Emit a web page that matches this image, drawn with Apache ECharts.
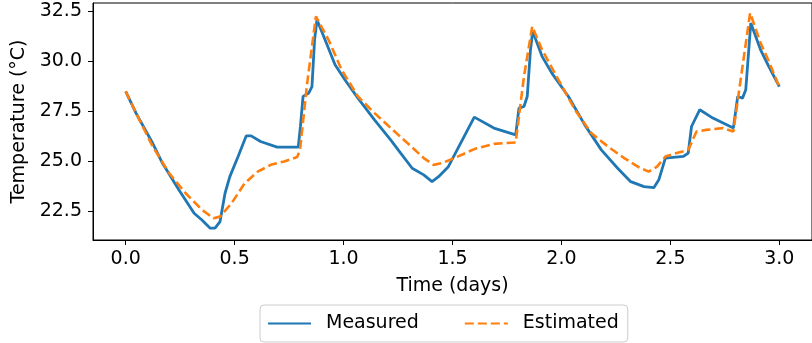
<!DOCTYPE html>
<html>
<head>
<meta charset="utf-8">
<script src="https://cdn.jsdelivr.net/npm/echarts@6/dist/echarts.min.js"></script>
<style>
  html, body { margin: 0; padding: 0; background: #fff; }
  #chart { width: 812px; height: 343px; }
</style>
</head>
<body>
<div id="chart"></div>
<script>
// time in days / temperature in degC
var measuredTime = [0, 0.048, 0.124, 0.169, 0.244, 0.314, 0.35, 0.388, 0.41, 0.433, 0.456, 0.478, 0.516, 0.553, 0.576, 0.619, 0.695, 0.792, 0.802, 0.814, 0.84, 0.855, 0.867, 0.878, 0.915, 0.961, 1.006, 1.066, 1.142, 1.217, 1.262, 1.315, 1.368, 1.406, 1.436, 1.481, 1.6, 1.69, 1.79, 1.805, 1.828, 1.843, 1.858, 1.868, 1.911, 1.956, 2.032, 2.107, 2.183, 2.258, 2.318, 2.379, 2.424, 2.447, 2.477, 2.56, 2.582, 2.597, 2.635, 2.695, 2.789, 2.809, 2.831, 2.846, 2.869, 2.914, 2.952, 3.0];
var measuredTemp = [28.5, 27.4, 25.9, 24.9, 23.57, 22.4, 22.06, 21.65, 21.65, 21.98, 23.4, 24.23, 25.24, 26.27, 26.27, 25.99, 25.71, 25.71, 26.74, 28.24, 28.41, 28.74, 31.08, 32.08, 31.08, 29.83, 29.08, 28.16, 27.07, 26.06, 25.41, 24.65, 24.32, 23.98, 24.23, 24.73, 27.21, 26.66, 26.32, 27.66, 27.74, 28.24, 30.58, 31.5, 30.25, 29.41, 28.24, 26.82, 25.57, 24.65, 23.98, 23.73, 23.68, 24.07, 25.16, 25.24, 25.41, 26.74, 27.58, 27.16, 26.66, 28.24, 28.16, 28.58, 31.92, 30.58, 29.74, 28.74];

var estimatedTime = [0, 0.063, 0.124, 0.2, 0.275, 0.35, 0.403, 0.433, 0.486, 0.546, 0.606, 0.666, 0.727, 0.787, 0.8, 0.833, 0.873, 0.931, 0.991, 1.066, 1.142, 1.217, 1.293, 1.368, 1.413, 1.449, 1.509, 1.6, 1.69, 1.79, 1.828, 1.866, 1.911, 1.986, 2.062, 2.137, 2.213, 2.288, 2.363, 2.401, 2.439, 2.477, 2.529, 2.582, 2.62, 2.665, 2.74, 2.789, 2.831, 2.866, 2.914, 2.952, 3.0];
var estimatedTemp = [28.5, 27.07, 25.74, 24.4, 23.4, 22.57, 22.15, 22.23, 22.9, 23.9, 24.48, 24.82, 24.99, 25.21, 25.57, 28.91, 32.25, 31.08, 29.58, 28.24, 27.41, 26.66, 25.91, 25.16, 24.82, 24.9, 25.16, 25.61, 25.87, 25.94, 29.24, 31.75, 30.58, 29.08, 27.58, 26.41, 25.74, 25.16, 24.65, 24.48, 24.73, 25.24, 25.41, 25.57, 26.49, 26.57, 26.66, 26.49, 29.74, 32.42, 30.92, 30.0, 28.71];

var xTicks = [0, 0.5, 1.0, 1.5, 2.0, 2.5, 3.0];
var yTicks = [22.5, 25.0, 27.5, 30.0, 32.5];

function pairs(xs, ys) {
    var res = [];
    xs.forEach(function (x, i) { res.push([x, ys[i]]); });
    return res;
}

var font = 'DejaVu Sans';
var chart = echarts.init(document.getElementById('chart'));
chart.setOption({
    animation: false,
    grid: {
        left: 93, top: 3, width: 729, height: 237,
        show: true, borderColor: '#000', borderWidth: 1
    },
    xAxis: {
        type: 'value', min: -0.15, max: 3.15,
        name: 'Time (days)', nameLocation: 'middle', nameGap: 37,
        nameTextStyle: { fontFamily: font, fontSize: 19, color: '#000' },
        axisLine: { show: true, onZero: false, lineStyle: { color: '#000', width: 1 } },
        axisTick: { show: true, customValues: xTicks, length: 5, lineStyle: { color: '#000' } },
        axisLabel: {
            customValues: xTicks, margin: 10,
            fontFamily: font, fontSize: 19, color: '#000',
            formatter: function (v) { return v.toFixed(1); }
        },
        splitLine: { show: false }
    },
    yAxis: {
        type: 'value', min: 21.06, max: 32.92,
        name: 'Temperature (°C)', nameLocation: 'middle', nameGap: 56,
        nameTextStyle: { fontFamily: font, fontSize: 19, color: '#000' },
        axisLine: { show: true, onZero: false, lineStyle: { color: '#000', width: 1 } },
        axisTick: { show: true, customValues: yTicks, length: 5, lineStyle: { color: '#000' } },
        axisLabel: {
            customValues: yTicks, margin: 11,
            fontFamily: font, fontSize: 19, color: '#000',
            formatter: function (v) { return v.toFixed(1); }
        },
        splitLine: { show: false }
    },
    legend: {
        left: 260, top: 305,
        padding: [9, 9, 9, 7],
        itemWidth: 43, itemHeight: 14, itemGap: 45,
        borderColor: '#cccccc', borderWidth: 1, borderRadius: 4,
        itemStyle: { opacity: 0 },
        textStyle: { fontFamily: font, fontSize: 19, color: '#000', padding: [0, 0, 0, 10] },
        data: ['Measured', 'Estimated']
    },
    series: [
        {
            name: 'Measured', type: 'line',
            data: pairs(measuredTime, measuredTemp),
            symbol: 'none',
            lineStyle: { color: '#1f77b4', width: 2.8 },
            itemStyle: { color: '#1f77b4' }
        },
        {
            name: 'Estimated', type: 'line',
            data: pairs(estimatedTime, estimatedTemp),
            symbol: 'none',
            lineStyle: { color: '#ff7f0e', width: 2.6, type: [9, 4] },
            itemStyle: { color: '#ff7f0e' }
        }
    ]
});
</script>
</body>
</html>
